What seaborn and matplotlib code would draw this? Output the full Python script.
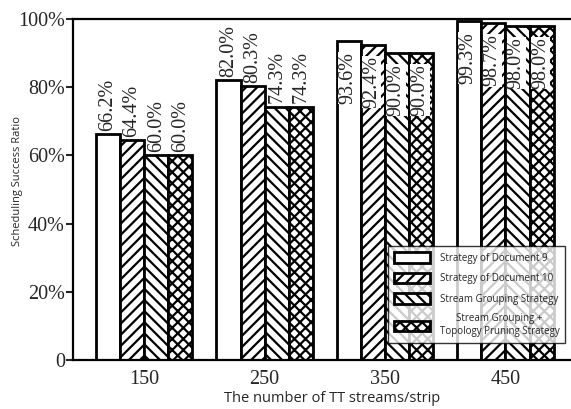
import matplotlib
matplotlib.use("Agg")
import matplotlib.pyplot as plt
import seaborn as sns
import pandas as pd

categories = ["150", "250", "350", "450"]
strategies = ["Strategy of Document 9", "Strategy of Document 10",
              "Stream Grouping Strategy",
              "Stream Grouping +\nTopology Pruning Strategy"]
doc9 = [66.2, 82.0, 93.6, 99.3]
doc10 = [64.4, 80.3, 92.4, 98.7]
grouping = [60.0, 74.3, 90.0, 98.0]
grouping_pruning = [60.0, 74.3, 90.0, 98.0]
yticks = [0, 20, 40, 60, 80, 100]
yticklabels = ["0", "20%", "40%", "60%", "80%", "100%"]

series = [doc9, doc10, grouping, grouping_pruning]
rows = []
for s, vals in zip(strategies, series):
    for c, v in zip(categories, vals):
        rows.append({"streams": c, "strategy": s, "ratio": v})
df = pd.DataFrame(rows)

sns.set_style("white")
plt.rcParams["hatch.linewidth"] = 1.6
plt.rcParams["hatch.color"] = "black"
serif = "Liberation Serif"
sans = "Open Sans"

fig = plt.figure(figsize=(5.71, 4.09), dpi=100)
ax = fig.add_axes([0.128, 0.12, 0.907, 0.8335])

sns.barplot(data=df, x="streams", y="ratio", hue="strategy", order=categories,
            hue_order=strategies, palette=["white"] * 4, edgecolor="black",
            linewidth=2.0, width=0.8, errorbar=None, ax=ax, legend=False)

hatches = ["", "///", "\\\\\\", "xxx"]
for cont, h in zip(ax.containers, hatches):
    for p in cont.patches:
        p.set_hatch(h)
        p.set_facecolor("white")
        p.set_edgecolor("black")

# value labels
for gi, cont in enumerate(ax.containers):
    for ci, p in enumerate(cont.patches):
        v = series[gi][ci]
        xc = p.get_x() + p.get_width() / 2
        txt = f"{v:.1f}%"
        if ci < 2:
            ax.text(xc, v + 1.0, txt, rotation=90, ha="center", va="bottom",
                    fontsize=14.5, family=serif)
        else:
            ax.text(xc - 0.01, v - 3.2, txt, rotation=90, ha="center", va="top",
                    fontsize=14.5, family=serif,
                    bbox=dict(facecolor="white", edgecolor="none", pad=0.2))

ax.set_ylim(0, 100)
ax.set_xlim(-0.59, 3.71)
ax.set_yticks(yticks)
ax.set_yticklabels(yticklabels, fontsize=14.5, family=serif)
ax.set_xticks(range(len(categories)))
ax.set_xticklabels(categories, fontsize=14.5, family=serif)
ax.tick_params(axis="y", direction="out", length=5, width=1.5, pad=1, left=True)
ax.tick_params(axis="x", length=0, pad=7)

ax.set_xlabel("The number of TT streams/strip", fontsize=10.5, family=sans, labelpad=2)
ax.set_ylabel("Scheduling Success Ratio", fontsize=8, family=sans)
ax.yaxis.set_label_coords(-0.097, 0.525)

for side in ["left", "bottom", "top"]:
    ax.spines[side].set_visible(True)
    ax.spines[side].set_color("black")
    ax.spines[side].set_linewidth(1.6)
ax.spines["right"].set_visible(False)

handles = [c.patches[0] for c in ax.containers]
leg = ax.legend(handles, strategies, loc="lower right",
                bbox_to_anchor=(0.95, 0.05), borderaxespad=0, frameon=True,
                fancybox=False, edgecolor="black",
                prop={"family": sans, "size": 7},
                handlelength=3.7, handleheight=1.34, labelspacing=0.9,
                borderpad=0.6, handletextpad=0.95)
leg.get_frame().set_linewidth(1.0)
for t in leg.get_texts():
    t.set_multialignment("center")

fig.savefig("out.png", dpi=100)
